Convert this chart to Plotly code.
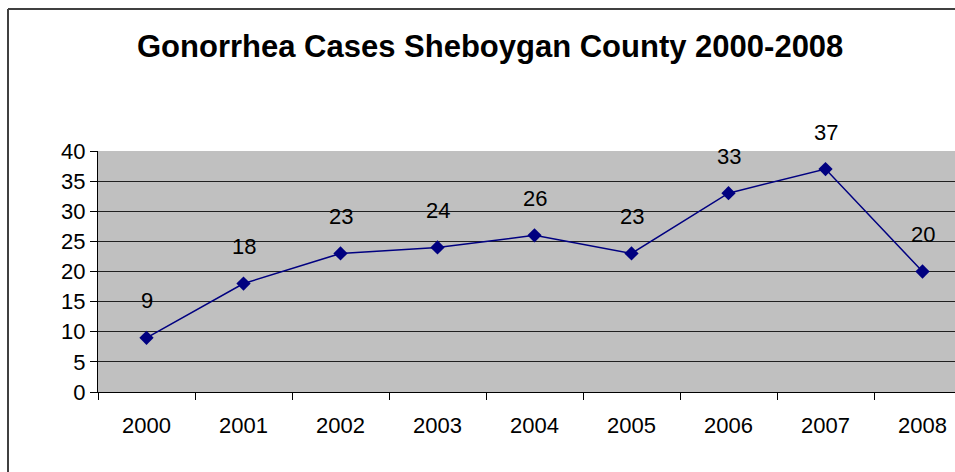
import plotly.graph_objects as go

years = ["2000", "2001", "2002", "2003", "2004", "2005", "2006", "2007", "2008"]
cases = [9, 18, 23, 24, 26, 23, 33, 37, 20]

title = "Gonorrhea Cases Sheboygan County 2000-2008"
font = "Liberation Sans, Arial, sans-serif"

fig = go.Figure()
fig.add_trace(
    go.Scatter(
        x=years,
        y=cases,
        mode="lines+markers",
        line=dict(color="#000080", width=1.5),
        marker=dict(symbol="diamond", size=11, color="#000080"),
        hoverinfo="x+y",
        showlegend=False,
    )
)

# data labels above each point (x by category index)
for i, v in enumerate(cases):
    fig.add_annotation(
        x=i, y=v, text=str(v), showarrow=False, yshift=37,
        font=dict(family=font, size=22, color="black"),
    )

fig.add_annotation(
    text="<b>" + title + "</b>", xref="paper", yref="paper",
    x=(490 - 98) / 857, y=1, yshift=124, showarrow=False,
    font=dict(family=font, size=31, color="black"),
)

# chart frame (right and bottom edges fall outside the window)
fig.add_shape(type="line", xref="paper", yref="paper",
              x0=-90 / 857, x1=1.1, y0=1 + 142 / 241, y1=1 + 142 / 241,
              line=dict(color="#404040", width=2))
fig.add_shape(type="line", xref="paper", yref="paper",
              x0=-90 / 857, x1=-90 / 857, y0=-0.4, y1=1 + 142 / 241,
              line=dict(color="#404040", width=2))

fig.update_layout(
    width=955,
    height=472,
    margin=dict(l=98, r=0, t=151, b=80),
    paper_bgcolor="white",
    plot_bgcolor="#C0C0C0",
    font=dict(family=font, size=22, color="black"),
    xaxis=dict(
        type="category",
        range=[-0.5, 8.335],
        tickson="boundaries",
        ticks="outside",
        ticklen=7,
        tickcolor="black",
        showline=True,
        linecolor="black",
        linewidth=1,
        showgrid=False,
        ticklabelstandoff=14,
        tickfont=dict(family=font, size=22, color="black"),
    ),
    yaxis=dict(
        range=[0, 40],
        dtick=5,
        ticks="outside",
        ticklen=7,
        tickcolor="black",
        showline=True,
        linecolor="black",
        linewidth=1,
        showgrid=True,
        gridcolor="#202020",
        gridwidth=1,
        zeroline=False,
        tickfont=dict(family=font, size=22, color="black"),
    ),
)

fig.write_html(
    "out.html",
    config={"displayModeBar": False},
    post_script="document.body.style.margin='0px';document.body.style.overflow='hidden';",
)
